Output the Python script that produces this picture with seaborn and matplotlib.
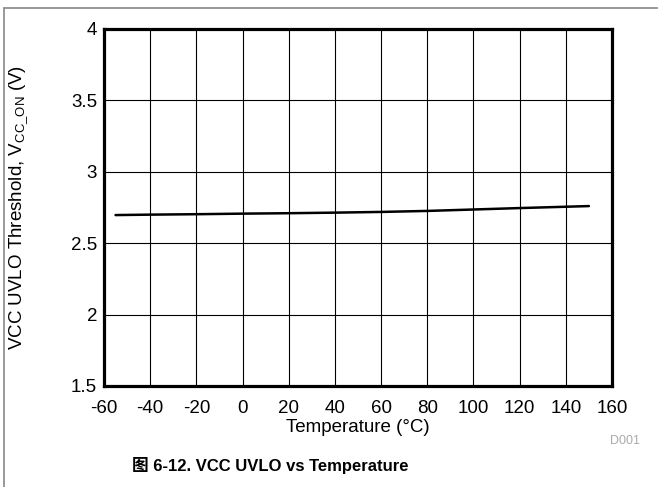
import matplotlib
matplotlib.use("Agg")
import matplotlib.pyplot as plt
from matplotlib.lines import Line2D
import seaborn as sns
import pandas as pd

# VCC UVLO rising threshold versus junction temperature
temperature_c = [-55, -40, -20, 0, 20, 40, 60, 80, 100, 120, 150]
vcc_on_v = [2.697, 2.700, 2.703, 2.707, 2.710, 2.714, 2.719, 2.726, 2.736, 2.746, 2.760]

x_ticks = [-60, -40, -20, 0, 20, 40, 60, 80, 100, 120, 140, 160]
y_ticks = [1.5, 2, 2.5, 3, 3.5, 4]
y_tick_labels = ["1.5", "2", "2.5", "3", "3.5", "4"]

sns.set_theme(style="white")
plt.rcParams["font.family"] = ["Liberation Sans", "Noto Sans CJK SC", "DejaVu Sans"]
plt.rcParams["mathtext.default"] = "regular"
plt.rcParams["axes.unicode_minus"] = False

df = pd.DataFrame({"T": temperature_c, "V": vcc_on_v})

fig = plt.figure(figsize=(6.58, 4.87), dpi=100)
W, H = 658, 487
ax = fig.add_axes([104 / W, 1 - 386 / H, (612 - 104) / W, (386 - 29) / H])

sns.lineplot(data=df, x="T", y="V", ax=ax, color="black", linewidth=1.8)

ax.set_xlim(-60, 160)
ax.set_ylim(1.5, 4)
ax.set_xticks(x_ticks)
ax.set_yticks(y_ticks)
ax.set_yticklabels(y_tick_labels)
ax.grid(True, color="black", linewidth=0.8)
ax.set_axisbelow(True)
ax.tick_params(axis="both", length=0, labelsize=13.5, colors="black")
ax.tick_params(axis="x", pad=10)
ax.tick_params(axis="y", pad=5)
for s in ax.spines.values():
    s.set_visible(True)
    s.set_color("black")
    s.set_linewidth(2.3)

ax.set_xlabel("Temperature (\u00b0C)", fontsize=13.5, color="black", va="center")
ax.xaxis.set_label_coords(0.5, (386 - 427) / 357)
ax.set_ylabel(r"VCC UVLO Threshold, V$_{CC\_ON}$ (V)", fontsize=13.5, color="black", va="center")
ax.yaxis.set_label_coords((19 - 104) / 508, 0.5)

fig.text(640 / W, 1 - 441 / H, "D001", ha="right", va="center", fontsize=9, color="#aaaaaa")
fig.text(270 / W, 1 - 465 / H, "图 6-12. VCC UVLO vs Temperature", ha="center", va="center",
         fontsize=12, fontweight="bold", color="black")

# thin grey frame along the top and left edges
fig.add_artist(Line2D([4 / W, 4 / W], [0, 1 - 8 / H], transform=fig.transFigure, color="#888888", linewidth=1.2))
fig.add_artist(Line2D([4 / W, 1], [1 - 8 / H, 1 - 8 / H], transform=fig.transFigure, color="#888888", linewidth=1.2))

fig.savefig("out.png", dpi=100)
